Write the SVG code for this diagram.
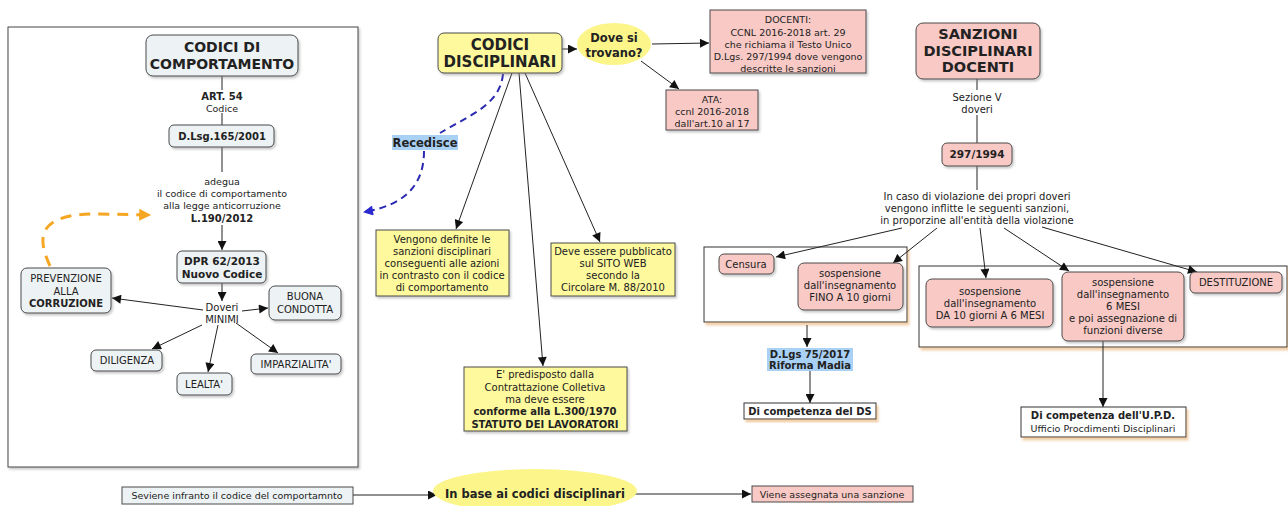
<svg xmlns="http://www.w3.org/2000/svg" width="1288" height="506" viewBox="0 0 1288 506">
<defs>
<style>
.t{font-family:"DejaVu Sans",Verdana,sans-serif;font-size:10px;fill:#222;text-anchor:middle}
.s{font-size:9.5px}
.f105{font-size:10.5px}
.f115{font-size:11.5px}
.f14{font-size:14px}
.f145{font-size:14.5px}
.f15{font-size:15px}
.b{font-weight:bold}
.gb{fill:#edf2f4;stroke:#4a4a4a;stroke-width:1}
.ye{fill:#fdf99c;stroke:#4a4a4a;stroke-width:1}
.pk{fill:#f8c9c5;stroke:#4a4a4a;stroke-width:1}
.wh{fill:#fff;stroke:#333;stroke-width:1}
.lbl{fill:#a9d0f5}
.c{fill:none;stroke:#222;stroke-width:1}
.ca{fill:none;stroke:#222;stroke-width:1;marker-end:url(#ah)}
</style>
<marker id="ah" viewBox="0 0 10 10" refX="10" refY="5" markerWidth="11" markerHeight="9" markerUnits="userSpaceOnUse" orient="auto"><path d="M0,0 L10,5 L0,10 z" fill="#111"/></marker>
<marker id="aho" viewBox="0 0 10 10" refX="9" refY="5" markerWidth="14" markerHeight="12" markerUnits="userSpaceOnUse" orient="auto"><path d="M0,0 L10,5 L0,10 z" fill="#f5a623"/></marker>
<marker id="ahb" viewBox="0 0 10 10" refX="9" refY="5" markerWidth="12" markerHeight="10" markerUnits="userSpaceOnUse" orient="auto"><path d="M0,0 L10,5 L0,10 z" fill="#2a2ad0"/></marker>
<filter id="sh" x="-10%" y="-10%" width="130%" height="140%"><feDropShadow dx="1.5" dy="2" stdDeviation="1" flood-color="#888" flood-opacity="0.45"/></filter>
<filter id="sho" x="-5%" y="-5%" width="115%" height="130%"><feDropShadow dx="2" dy="3" stdDeviation="1" flood-color="#e8b070" flood-opacity="0.6"/></filter>
</defs>
<rect width="1288" height="506" fill="#fff"/>

<g id="panel-left"><rect x="8" y="27" width="350" height="440" fill="#fff" stroke="#444" stroke-width="1" filter="url(#sh)"/></g>
<g id="container-ds"><rect x="704" y="247" width="203" height="75" fill="#fff" stroke="#333" filter="url(#sho)"/></g>
<g id="container-upd"><rect x="919" y="266" width="368" height="81" fill="#fff" stroke="#333" filter="url(#sho)"/></g>

<g id="connectors">
<line class="c" x1="222" y1="76" x2="222" y2="90"/>
<line class="c" x1="222" y1="113" x2="222" y2="125"/>
<line class="c" x1="222" y1="147" x2="222" y2="172"/>
<line class="ca" x1="222" y1="225" x2="222" y2="250"/>
<line class="ca" x1="222" y1="283" x2="222" y2="301"/>
<line class="ca" x1="203" y1="310" x2="112" y2="298"/>
<line class="ca" x1="242" y1="311" x2="268" y2="308"/>
<line class="ca" x1="202" y1="325" x2="152" y2="349"/>
<line class="ca" x1="218" y1="325" x2="208" y2="372"/>
<line class="ca" x1="236" y1="323" x2="278" y2="353"/>
<path d="M50 266 C36 236 38 213 100 214 L150 215" fill="none" stroke="#f5a623" stroke-width="3" stroke-dasharray="11 8" marker-end="url(#aho)"/>
<path d="M503 74 C500 105 470 115 440 133" fill="none" stroke="#2a2ab0" stroke-width="2" stroke-dasharray="7 5"/>
<path d="M424 151 C424 185 405 205 364 212" fill="none" stroke="#2a2ab0" stroke-width="2" stroke-dasharray="7 5" marker-end="url(#ahb)"/>
<line class="ca" x1="562" y1="49" x2="577" y2="49"/>
<line class="ca" x1="652" y1="44" x2="709" y2="43"/>
<line class="ca" x1="641" y1="61" x2="679" y2="89"/>
<line class="ca" x1="512" y1="73" x2="456" y2="229"/>
<line class="ca" x1="519" y1="73" x2="543" y2="366"/>
<line class="ca" x1="525" y1="73" x2="600" y2="242"/>
<line class="c" x1="977" y1="79" x2="977" y2="90"/>
<line class="c" x1="977" y1="115" x2="977" y2="143"/>
<line class="c" x1="977" y1="166" x2="977" y2="190"/>
<line class="ca" x1="902" y1="228" x2="776" y2="257"/>
<line class="ca" x1="937" y1="228" x2="893" y2="263"/>
<line class="ca" x1="980" y1="228" x2="986" y2="278"/>
<line class="ca" x1="1004" y1="228" x2="1069" y2="271"/>
<line class="ca" x1="1042" y1="227" x2="1197" y2="272"/>
<line class="ca" x1="807" y1="325" x2="807" y2="347"/>
<line class="ca" x1="810" y1="371" x2="810" y2="403"/>
<line class="ca" x1="1103" y1="341" x2="1103" y2="407"/>
<line class="ca" x1="353" y1="495" x2="437" y2="495"/>
<line class="ca" x1="632" y1="494" x2="751" y2="494"/>
</g>

<g id="codici-comportamento"><rect class="gb" x="146" y="35" width="152" height="41" rx="7" filter="url(#sh)"/><text class="t b f14" x="222" y="52">CODICI DI</text><text class="t b f14" x="222" y="69">COMPORTAMENTO</text></g>
<g id="lbl-art54"><text class="t b" x="222" y="100">ART. 54</text><text class="t s" x="222" y="112">Codice</text></g>
<g id="dlsg165"><rect class="gb" x="169" y="125" width="105" height="22" rx="5" filter="url(#sh)"/><text class="t b" x="222" y="140">D.Lsg.165/2001</text></g>
<g id="lbl-adegua"><text class="t s" x="222" y="185">adegua</text><text class="t s" x="222" y="197">il codice di comportamento</text><text class="t s" x="222" y="209">alla legge anticorruzione</text><text class="t b" x="222" y="222">L.190/2012</text></g>
<g id="dpr62"><rect class="gb" x="177" y="251" width="89" height="32" rx="5" filter="url(#sh)"/><text class="t b f105" x="222" y="265">DPR 62/2013</text><text class="t b f105" x="222" y="278">Nuovo Codice</text></g>
<g id="lbl-doveri"><text class="t" x="222" y="311">Doveri</text><text class="t" x="222" y="323">MINIMI</text></g>
<g id="prevenzione"><rect class="gb" x="21" y="268" width="90" height="45" rx="6" filter="url(#sh)"/><text class="t" x="66" y="282">PREVENZIONE</text><text class="t" x="66" y="295">ALLA</text><text class="t b" x="66" y="307">CORRUZIONE</text></g>
<g id="buona-condotta"><rect class="gb" x="269" y="286" width="72" height="34" rx="6" filter="url(#sh)"/><text class="t" x="305" y="300">BUONA</text><text class="t" x="305" y="313">CONDOTTA</text></g>
<g id="diligenza"><rect class="gb" x="91" y="350" width="71" height="21" rx="5" filter="url(#sh)"/><text class="t" x="127" y="364">DILIGENZA</text></g>
<g id="lealta"><rect class="gb" x="177" y="373" width="55" height="22" rx="5" filter="url(#sh)"/><text class="t" x="204" y="388">LEALTA'</text></g>
<g id="imparzialita"><rect class="gb" x="251" y="354" width="90" height="20" rx="5" filter="url(#sh)"/><text class="t" x="296" y="368">IMPARZIALITA'</text></g>

<g id="codici-disciplinari"><rect class="ye" x="438" y="33" width="124" height="40" rx="6" filter="url(#sh)"/><text class="t b f15" x="500" y="49.5">CODICI</text><text class="t b f15" x="500" y="67">DISCIPLINARI</text></g>
<g id="dove-si-trovano"><ellipse cx="614" cy="44" rx="37" ry="21" fill="#fbf58a"/><text class="t b f115" x="614" y="42">Dove si</text><text class="t b f115" x="614" y="57">trovano?</text></g>
<g id="lbl-recedisce"><rect class="lbl" x="392" y="135" width="66" height="15"/><text class="t b f115" x="425" y="146.5">Recedisce</text></g>
<g id="docenti"><rect class="pk" x="710" y="10" width="156" height="63" filter="url(#sh)"/><text class="t s" x="788" y="23">DOCENTI:</text><text class="t s" x="788" y="36">CCNL 2016-2018 art. 29</text><text class="t s" x="788" y="48">che richiama il Testo Unico</text><text class="t s" x="788" y="60">D.Lgs. 297/1994 dove vengono</text><text class="t s" x="788" y="72">descritte le sanzioni</text></g>
<g id="ata"><rect class="pk" x="666" y="90" width="92" height="40" filter="url(#sh)"/><text class="t s" x="712" y="103">ATA:</text><text class="t s" x="712" y="115">ccnl 2016-2018</text><text class="t s" x="712" y="127">dall'art.10 al 17</text></g>
<g id="vengono-definite"><rect class="ye" x="376" y="230" width="133" height="66" filter="url(#sh)"/><text class="t" x="442" y="243">Vengono definite le</text><text class="t" x="442" y="255">sanzioni disciplinari</text><text class="t" x="442" y="267">conseguenti alle azioni</text><text class="t" x="442" y="279">in contrasto con il codice</text><text class="t" x="442" y="291">di comportamento</text></g>
<g id="deve-essere-pubblicato"><rect class="ye" x="551" y="243" width="124" height="53" filter="url(#sh)"/><text class="t" x="613" y="255">Deve essere pubblicato</text><text class="t" x="613" y="267">sul SITO WEB</text><text class="t" x="613" y="279">secondo la</text><text class="t" x="613" y="291">Circolare M. 88/2010</text></g>
<g id="predisposto"><rect class="ye" x="464" y="367" width="163" height="64" filter="url(#sh)"/><text class="t" x="545" y="378">E' predisposto dalla</text><text class="t" x="545" y="391">Contrattazione Colletiva</text><text class="t" x="545" y="403">ma deve essere</text><text class="t b" x="545" y="415">conforme alla L.300/1970</text><text class="t b" x="545" y="428">STATUTO DEI LAVORATORI</text></g>

<g id="sanzioni-docenti"><rect class="pk" x="916" y="23" width="124" height="56" rx="7" filter="url(#sh)"/><text class="t b f145" x="978" y="39">SANZIONI</text><text class="t b f145" x="978" y="56">DISCIPLINARI</text><text class="t b f145" x="978" y="72">DOCENTI</text></g>
<g id="lbl-sezione"><text class="t" x="977" y="101">Sezione V</text><text class="t" x="977" y="113">doveri</text></g>
<g id="n297"><rect class="pk" x="942" y="143" width="70" height="23" rx="5" filter="url(#sh)"/><text class="t b f105" x="977" y="158">297/1994</text></g>
<g id="lbl-violazione"><text class="t" x="977" y="200">In caso di violazione dei propri doveri</text><text class="t" x="977" y="212">vengono inflitte le seguenti sanzioni,</text><text class="t" x="977" y="224">in proporzine all'entità della violazione</text></g>
<g id="censura"><rect class="pk" x="719" y="254" width="55" height="20" rx="5" filter="url(#sh)"/><text class="t" x="746" y="268">Censura</text></g>
<g id="sosp-10"><rect class="pk" x="798" y="263" width="105" height="47" rx="6" filter="url(#sh)"/><text class="t" x="850" y="277">sospensione</text><text class="t" x="850" y="289">dall'insegnamento</text><text class="t" x="850" y="301">FINO A 10 giorni</text></g>
<g id="sosp-6mesi"><rect class="pk" x="926" y="279" width="127" height="48" rx="6" filter="url(#sh)"/><text class="t" x="990" y="295">sospensione</text><text class="t" x="990" y="307">dall'insegnamento</text><text class="t" x="990" y="319">DA 10 giorni A 6 MESI</text></g>
<g id="sosp-funzioni"><rect class="pk" x="1062" y="272" width="122" height="69" rx="6" filter="url(#sh)"/><text class="t" x="1123" y="286">sospensione</text><text class="t" x="1123" y="298">dall'insegnamento</text><text class="t" x="1123" y="310">6 MESI</text><text class="t" x="1123" y="322">e poi assegnazione di</text><text class="t" x="1123" y="334">funzioni diverse</text></g>
<g id="destituzione"><rect class="pk" x="1190" y="272" width="92" height="21" rx="5" filter="url(#sh)"/><text class="t" x="1236" y="286">DESTITUZIONE</text></g>
<g id="lbl-dlgs75"><rect class="lbl" x="767" y="348" width="86" height="23"/><text class="t b" x="810" y="357.5">D.Lgs 75/2017</text><text class="t b" x="810" y="369">Riforma Madia</text></g>
<g id="competenza-ds"><rect class="wh" x="744" y="403" width="132" height="16" filter="url(#sho)"/><text class="t b" x="810" y="415">Di competenza del DS</text></g>
<g id="competenza-upd"><rect class="wh" x="1021" y="407" width="165" height="30" filter="url(#sho)"/><text class="t b" x="1103" y="419">Di competenza dell'U.P.D.</text><text class="t s" x="1103" y="432">Ufficio Procdimenti Disciplinari</text></g>

<g id="seviene"><rect class="gb" x="122" y="487" width="231" height="17"/><text class="t s" x="237" y="499">Seviene infranto il codice del comportamnto</text></g>
<g id="in-base"><ellipse cx="535" cy="491" rx="102" ry="22" fill="#fbf58a"/><text class="t b f115" x="535" y="498">In base ai codici disciplinari</text></g>
<g id="viene-assegnata"><rect class="pk" x="752" y="486" width="161" height="16"/><text class="t s" x="832" y="498">Viene assegnata una sanzione</text></g>
</svg>
